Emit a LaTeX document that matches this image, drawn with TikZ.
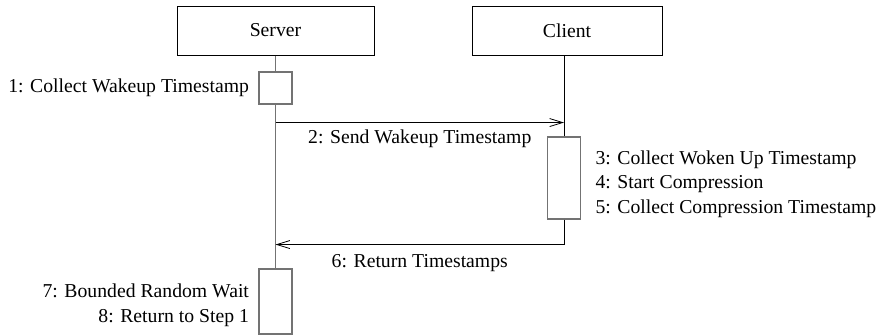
\documentclass[tikz,border=0pt]{standalone}
\usepackage{fontspec}
\setmainfont{Liberation Serif}
\usepackage{tikz}
\usetikzlibrary{arrows.meta}
\usetikzlibrary{positioning}
\colorlet{lifegray}{black!55}
\colorlet{actgray}{black!55}
\tikzstyle{seqfont}=[font=\fontsize{19.7}{24.5}\selectfont]
\tikzstyle{objbox}=[draw,line width=1pt,minimum height=49pt,inner sep=0pt]
\tikzstyle{actbox}=[draw=actgray,line width=1.1pt,fill=white,inner sep=0pt,minimum width=33pt]
\tikzstyle{life}=[line width=1pt]
\tikzstyle{msghead}=[>/.tip={Straight Barb[length=13pt,width=8pt,line width=.8pt]}]
\tikzstyle{msg}=[line width=.8pt,msghead,->]

\begin{document}
\begin{tikzpicture}[x=1pt,y=-1pt,seqfont]
	\useasboundingbox (0,0) rectangle (878,335);
	\node[objbox,minimum width=197pt] (server) at (275.5,30.5) {Server};
	\node[objbox,minimum width=190pt] (client) at (567,30.5) {Client};
	\node[actbox,minimum height=32pt] (act1) at (275.5,88) {};
	\node[actbox,minimum height=82pt] (act2) at (564,178) {};
	\node[actbox,minimum height=65pt] (act3) at (275.5,301.5) {};
	\path (act1.south) ++(0,18) coordinate (m2s);
	\path (act2.south) ++(0,25) coordinate (m6c);
	\draw[life,lifegray,line width=1.4pt] (server) -- (act1);
	\draw[life,lifegray,line width=1.4pt] (act1) -- (act3);
	\draw[life] (client.south -| act2.north) -- (act2);
	\draw[life] (act2) -- (m6c);
	\draw[msg] (m2s) --node[below=4pt]{2: Send Wakeup Timestamp} (m2s -| act2.north);
	\draw[msg] (m6c) --node[below=6pt]{6: Return Timestamps} (m6c -| act1.south);
	\node[left=6pt of act1] (l1) {1: Collect Wakeup Timestamp};
	\node[right=11pt of act2,align=left,yshift=-6pt] (l345) {3: Collect Woken Up Timestamp\\4: Start Compression\\5: Collect Compression Timestamp};
	\node[left=6pt of act3,align=right,yshift=-4pt] (l78) {7: Bounded Random Wait\\8: Return to Step 1};
\end{tikzpicture}
\end{document}
